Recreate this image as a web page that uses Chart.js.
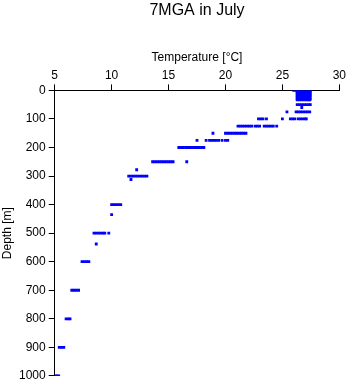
<!DOCTYPE html>
<html>
<head>
<meta charset="utf-8">
<script src="https://cdn.jsdelivr.net/npm/chart.js@4/dist/chart.umd.min.js"></script>
<style>
  body { margin: 0; background: #fff; }
</style>
</head>
<body>
<canvas id="myChart" width="348" height="384"></canvas>
<script>
// depth levels [m] and the temperatures [°C] read at each level
var depthLevels = [0, 4, 8, 12, 16, 20, 25, 30, 33, 50, 60, 75, 100, 125, 150, 175, 200, 250, 278, 300, 312, 400, 435, 500, 538, 600, 700, 800, 900, 1000];
var levelTemps = [
    [26.0, 26.2, 26.4, 26.6, 26.8, 27.0, 27.2, 27.4],
    [26.3, 26.5, 26.7, 26.9, 27.1, 27.3, 27.45],
    [26.3, 26.5, 26.7, 26.9, 27.1, 27.3, 27.4],
    [26.3, 26.5, 26.7, 26.9, 27.1, 27.3, 27.45],
    [26.3, 26.5, 26.7, 26.9, 27.1, 27.3, 27.4],
    [26.3, 26.5, 26.7, 26.9, 27.1, 27.3, 27.45],
    [26.3, 26.5, 26.7, 26.9, 27.1, 27.3, 27.4],
    [26.3, 26.5, 26.7, 26.9, 27.1, 27.3, 27.45],
    [26.3, 26.5, 26.7, 26.9, 27.1, 27.3, 27.4],
    [26.3, 26.5, 26.7, 26.9, 27.1, 27.3, 27.45],
    [26.7],
    [25.4, 26.2, 26.4, 26.6, 26.8, 27.0, 27.2, 27.4],
    [22.9, 23.1, 23.3, 23.6, 25.0, 25.7, 25.9, 26.1, 26.4, 26.6, 26.8, 27.0, 27.1],
    [21.1, 21.3, 21.5, 21.7, 21.9, 22.1, 22.3, 22.6, 22.8, 23.0, 23.4, 23.6, 23.8, 24.0, 24.2, 24.5],
    [18.9, 20.0, 20.2, 20.4, 20.6, 20.8, 21.0, 21.2, 21.4, 21.6, 21.8],
    [17.5, 18.3, 18.6, 18.8, 19.0, 19.2, 19.4, 19.7, 20.0, 20.2],
    [15.9, 16.1, 16.3, 16.5, 16.7, 16.9, 17.1, 17.3, 17.5, 17.7, 17.9, 18.1],
    [13.6, 13.8, 14.0, 14.2, 14.4, 14.6, 14.8, 15.0, 15.2, 15.4, 16.6],
    [12.2],
    [11.5, 11.7, 11.9, 12.1, 12.3, 12.5, 12.7, 12.9, 13.1],
    [11.7],
    [10.0, 10.2, 10.4, 10.6, 10.8],
    [10.0],
    [8.45, 8.65, 8.85, 9.05, 9.25, 9.4, 9.75],
    [8.65],
    [7.4, 7.6, 7.8, 8.0],
    [6.5, 6.7, 6.9, 7.1],
    [6.0, 6.2, 6.35],
    [5.4, 5.6, 5.8],
    [5.05, 5.2, 5.35]
];
var xTicks = [5, 10, 15, 20, 25, 30];
var yTicks = [0, 100, 200, 300, 400, 500, 600, 700, 800, 900, 1000];

var points = [];
depthLevels.forEach(function (d, i) {
    levelTemps[i].forEach(function (t) {
        points.push({ x: t, y: d });
    });
});

var font = 'Liberation Sans, Arial, Helvetica, sans-serif';

var ctx = document.getElementById('myChart').getContext('2d');
var chart = new Chart(ctx, {
    type: 'scatter',
    data: {
        datasets: [{
            data: points,
            pointStyle: 'rect',
            pointRadius: 2,
            pointBorderWidth: 0,
            backgroundColor: '#0000ff',
            borderColor: '#0000ff'
        }]
    },
    options: {
        responsive: false,
        animation: false,
        layout: { padding: { left: 2, right: 2, top: 0, bottom: 0 } },
        plugins: {
            legend: { display: false },
            tooltip: { enabled: false },
            title: {
                display: true,
                fullSize: false,
                text: '7MGA in July',
                color: '#000',
                font: { family: font, size: 16, weight: 'normal', lineHeight: 1.1 },
                padding: { top: 2, bottom: 31 }
            }
        },
        scales: {
            x: {
                type: 'linear',
                position: 'top',
                min: 5,
                max: 30,
                afterBuildTicks: function (axis) {
                    axis.ticks = xTicks.map(function (v) { return { value: v }; });
                },
                ticks: {
                    color: '#000', padding: 2, font: { family: font, size: 12 },
                    callback: function (v) { return String(v); }
                },
                grid: { drawOnChartArea: false, tickLength: 6, color: '#000' },
                border: { color: '#000', width: 1 },
                title: {
                    display: true,
                    text: 'Temperature [°C]',
                    color: '#000',
                    font: { family: font, size: 12 },
                    padding: { top: 0, bottom: 1 }
                }
            },
            y: {
                type: 'linear',
                reverse: true,
                min: 0,
                max: 1000,
                afterBuildTicks: function (axis) {
                    axis.ticks = yTicks.map(function (v) { return { value: v }; });
                },
                ticks: {
                    color: '#000', padding: 3, font: { family: font, size: 12, lineHeight: 0.85 },
                    callback: function (v) { return String(v); }
                },
                grid: { drawOnChartArea: false, tickLength: 6, color: '#000' },
                border: { color: '#000', width: 1 },
                title: {
                    display: true,
                    text: 'Depth [m]',
                    color: '#000',
                    font: { family: font, size: 12, lineHeight: 1 },
                    padding: { top: 0, bottom: 2 }
                }
            }
        }
    }
});
</script>
</body>
</html>
